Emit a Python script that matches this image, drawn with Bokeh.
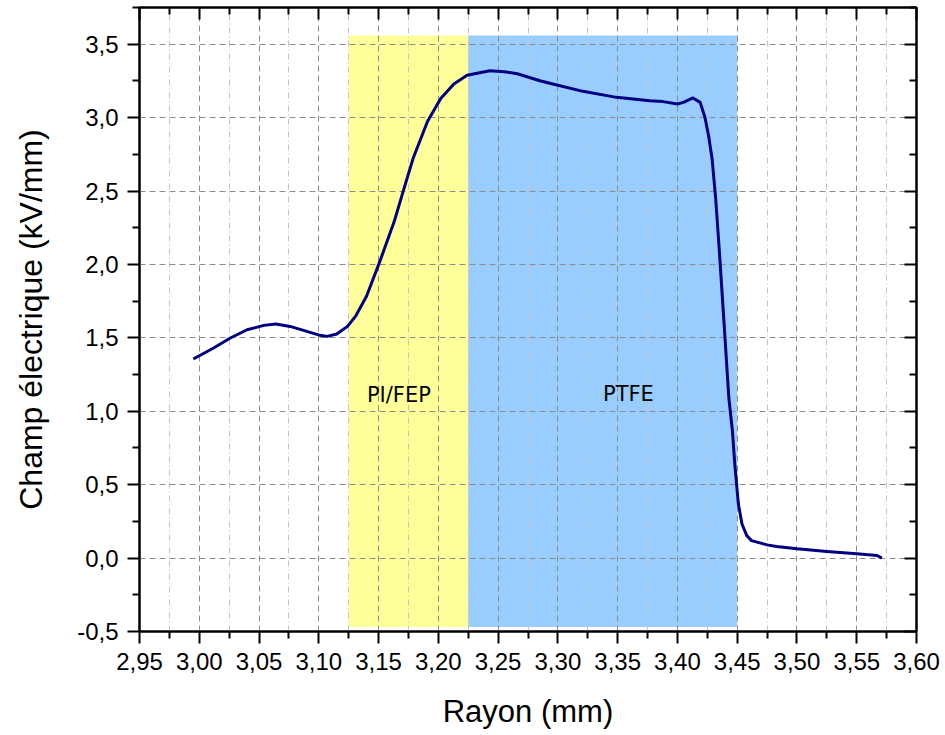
from bokeh.plotting import figure
from bokeh.models import (LinearAxis, FixedTicker, CustomJSTickFormatter, Range1d)
from bokeh.core.properties import value
from bokeh.embed import file_html
from bokeh.resources import INLINE

# ---- data ----
rayon_mm = [2.995, 3.012, 3.026, 3.040, 3.054, 3.064, 3.076, 3.090, 3.101, 3.107,
            3.115, 3.124, 3.131, 3.140, 3.151, 3.163, 3.171, 3.179, 3.191, 3.202,
            3.213, 3.224, 3.243, 3.255, 3.266, 3.285, 3.294, 3.321, 3.349, 3.377,
            3.388, 3.400, 3.405, 3.413, 3.419, 3.423, 3.426, 3.429, 3.432, 3.435,
            3.439, 3.443, 3.446, 3.448, 3.451, 3.454, 3.458, 3.462, 3.475, 3.483,
            3.500, 3.525, 3.550, 3.567, 3.571]
champ_kv_mm = [1.356, 1.431, 1.499, 1.555, 1.585, 1.594, 1.578, 1.544, 1.517, 1.510,
               1.526, 1.578, 1.650, 1.785, 2.019, 2.290, 2.510, 2.725, 2.975, 3.130,
               3.229, 3.288, 3.319, 3.313, 3.299, 3.251, 3.232, 3.179, 3.138, 3.115,
               3.109, 3.093, 3.104, 3.134, 3.104, 3.003, 2.880, 2.720, 2.448, 2.100,
               1.600, 1.092, 0.866, 0.639, 0.368, 0.232, 0.153, 0.119, 0.090, 0.079,
               0.063, 0.045, 0.029, 0.018, 0.000]

region_names = ["PI/FEP", "PTFE"]
region_start = [3.125, 3.225]
region_end = [3.225, 3.45]
region_low = [-0.47, -0.47]
region_high = [3.56, 3.56]
region_colors = ["#FFFF99", "#99CCFF"]

x_ticks = [2.95, 3.00, 3.05, 3.10, 3.15, 3.20, 3.25, 3.30, 3.35, 3.40, 3.45, 3.50, 3.55, 3.60]
x_minor = [2.975, 3.025, 3.075, 3.125, 3.175, 3.225, 3.275, 3.325, 3.375, 3.425, 3.475, 3.525, 3.575]
y_ticks = [-0.5, 0.0, 0.5, 1.0, 1.5, 2.0, 2.5, 3.0, 3.5]
y_minor = [-0.25, 0.25, 0.75, 1.25, 1.75, 2.25, 2.75, 3.25, 3.75]

label_x = [3.167, 3.359]
label_y = [1.11, 1.12]

p = figure(frame_width=777, frame_height=624, output_backend="svg", toolbar_location=None,
           x_range=Range1d(2.95, 3.60), y_range=Range1d(-0.5, 3.75),
           min_border_left=139, min_border_top=7, min_border_right=26, min_border_bottom=80)
p.background_fill_color = "white"
p.border_fill_color = "white"
p.outline_line_color = "black"
p.outline_line_width = 2

# shaded layers
p.quad(left=region_start, right=region_end, bottom=region_low, top=region_high,
       fill_color=region_colors, line_color=None, level="image")

# curve
p.line(rayon_mm, champ_kv_mm, line_color="#000080", line_width=3, line_join="round")

# region labels
p.text(x=label_x, y=label_y, text=region_names, text_align="center", text_baseline="middle",
       text_font=value("DejaVu Sans"), text_font_size="21px", text_color="black")

xfmt = CustomJSTickFormatter(code="return tick.toFixed(2).replace('.', ',');")
yfmt = CustomJSTickFormatter(code="if (Math.abs(tick) < 1e-9) {tick = 0;} return tick.toFixed(1).replace('.', ',');")
blank = CustomJSTickFormatter(code="return '';")

xt = FixedTicker(ticks=x_ticks, minor_ticks=x_minor)
yt = FixedTicker(ticks=y_ticks, minor_ticks=y_minor)

def style_axis(ax, outward=True):
    ax.axis_line_color = "black"
    ax.axis_line_width = 2
    ax.major_tick_line_color = "black"
    ax.major_tick_line_width = 2
    ax.minor_tick_line_color = "black"
    ax.minor_tick_line_width = 2
    if outward:
        ax.major_tick_out = 12
        ax.major_tick_in = 0
        ax.minor_tick_out = 7
        ax.minor_tick_in = 0
    else:
        ax.major_tick_out = 0
        ax.major_tick_in = 12
        ax.minor_tick_out = 0
        ax.minor_tick_in = 7

xa = p.xaxis[0]
xa.ticker = xt
xa.formatter = xfmt
style_axis(xa)
xa.major_label_text_font = "Liberation Sans"
xa.major_label_text_font_size = "24px"
xa.major_label_text_color = "black"
xa.major_label_standoff = 9
xa.axis_label = "Rayon (mm)"
xa.axis_label_text_font = "Liberation Sans"
xa.axis_label_text_font_size = "31px"
xa.axis_label_text_font_style = "normal"
xa.axis_label_text_color = "black"
xa.axis_label_standoff = 21

ya = p.yaxis[0]
ya.ticker = yt
ya.formatter = yfmt
style_axis(ya)
ya.major_label_text_font = "Liberation Sans"
ya.major_label_text_font_size = "24px"
ya.major_label_text_color = "black"
ya.major_label_standoff = 9
ya.axis_label = "Champ électrique (kV/mm)"
ya.axis_label_text_font = "Liberation Sans"
ya.axis_label_text_font_size = "32px"
ya.axis_label_text_font_style = "normal"
ya.axis_label_text_color = "black"
ya.axis_label_standoff = 25

top = LinearAxis(ticker=FixedTicker(ticks=x_ticks, minor_ticks=x_minor), formatter=blank)
style_axis(top, outward=False)
top.major_label_standoff = 0
p.add_layout(top, "above")

right = LinearAxis(ticker=FixedTicker(ticks=y_ticks, minor_ticks=y_minor), formatter=blank)
style_axis(right, outward=False)
right.major_label_standoff = 0
p.add_layout(right, "right")

# grids
p.xgrid.ticker = xt
p.xgrid.grid_line_color = "#8c8c8c"
p.xgrid.grid_line_dash = "6 4"
p.xgrid.grid_line_width = 1
p.xgrid.minor_grid_line_color = "#c4c4c4"
p.xgrid.minor_grid_line_dash = "6 3 1 3"
p.xgrid.minor_grid_line_width = 1

p.ygrid.ticker = yt
p.ygrid.grid_line_color = "#8c8c8c"
p.ygrid.grid_line_dash = "6 4"
p.ygrid.grid_line_width = 1

with open("out.html", "w") as f:
    f.write(file_html(p, INLINE))
